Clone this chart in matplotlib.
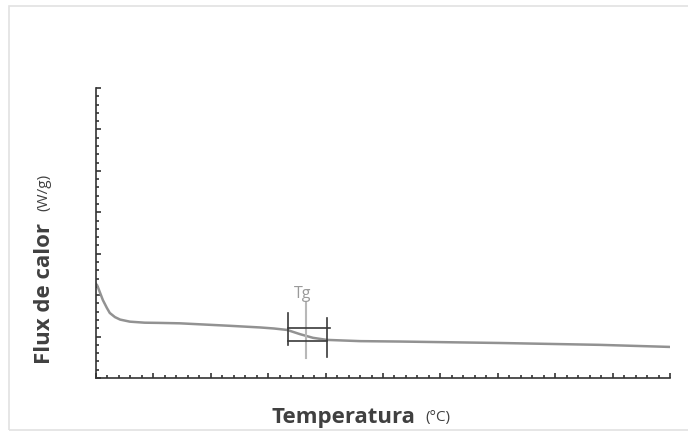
import numpy as np
import matplotlib
matplotlib.use("Agg")
import matplotlib.pyplot as plt
from matplotlib.patches import Rectangle
from matplotlib.ticker import MultipleLocator

plt.rcParams['font.family'] = ['Open Sans', 'DejaVu Sans']

# DSC curve (arbitrary units)
temp = [0, 0.2, 0.7, 1.2, 1.9, 2.4, 3.3, 4.2, 5.9, 8.5, 11.0, 14.6, 23.3, 28.6, 31.0,
        33.3, 35.5, 37.8, 40.2, 46.0, 53.0, 70.4, 87.8, 100]
heat_flow = [2.27, 2.24, 2.06, 1.88, 1.69, 1.57, 1.47, 1.41, 1.36, 1.335, 1.33, 1.32,
             1.26, 1.22, 1.195, 1.16, 1.06, 0.97, 0.92, 0.89, 0.88, 0.845, 0.80, 0.75]

# Tg construction
tg_x = 36.6
tg_y = [0.48, 1.83]
onset_x, onset_y = 33.4, [0.80, 1.57]
end_x, end_y = 40.2, [0.51, 1.45]
upper_y, lower_y = 1.21, 0.89
tangent_x = [33.4, 40.8]
lower_x = [33.4, 40.2]

W, H = 688, 432
fig = plt.figure(figsize=(W / 100, H / 100), dpi=100)

# light frame round the picture
fig.patches.append(Rectangle((9 / W, 2 / H), 1.2, (424) / H, transform=fig.transFigure,
                             fill=False, edgecolor='#e2e2e2', lw=1.2))

ax = fig.add_axes([96 / W, (H - 378) / H, 574 / W, 290 / H])
ax.plot(temp, heat_flow, color='#929292', lw=1.8, solid_joinstyle='round')

# Tg markers
ax.plot([tg_x, tg_x], tg_y, color='#b8b8b8', lw=1.5)
ax.plot(tangent_x, [upper_y, upper_y], color='#3a3a3a', lw=1.2)
ax.plot(lower_x, [lower_y, lower_y], color='#3a3a3a', lw=1.2)
ax.plot([onset_x, onset_x], onset_y, color='#3a3a3a', lw=1.2)
ax.plot([end_x, end_x], end_y, color='#3a3a3a', lw=1.2)
ax.text(35.9, 2.02, "Tg", color='#9a9a9a', fontsize=11.5, ha='center', va='center')

ax.set_xlim(0, 100)
ax.set_ylim(0, 7)
ax.xaxis.set_major_locator(MultipleLocator(10))
ax.xaxis.set_minor_locator(MultipleLocator(2))
ax.yaxis.set_major_locator(MultipleLocator(1))
ax.yaxis.set_minor_locator(MultipleLocator(0.2))
ax.tick_params(which='both', direction='in', labelbottom=False, labelleft=False,
               color='#333333', width=1.2)
ax.tick_params(which='major', length=3.5)
ax.tick_params(which='minor', length=2.3)
for s in ['top', 'right']:
    ax.spines[s].set_visible(False)
for s in ['left', 'bottom']:
    ax.spines[s].set_color('#333333')
    ax.spines[s].set_linewidth(1.2)

# axis titles
fig.text(343 / W, 1 - 417 / H, "Temperatura", fontsize=16, fontweight='bold',
         color='#404040', ha='center', va='center')
fig.text(438 / W, 1 - 418 / H, "(°C)", fontsize=11, color='#404040',
         ha='center', va='center')
fig.text(44 / W, 1 - 294 / H, "Flux de calor", fontsize=16, fontweight='bold',
         color='#404040', ha='center', va='center', rotation=90)
fig.text(44 / W, 1 - 192 / H, "(W/g)", fontsize=11, color='#404040',
         ha='center', va='center', rotation=90)

fig.savefig("out.png", dpi=100)
